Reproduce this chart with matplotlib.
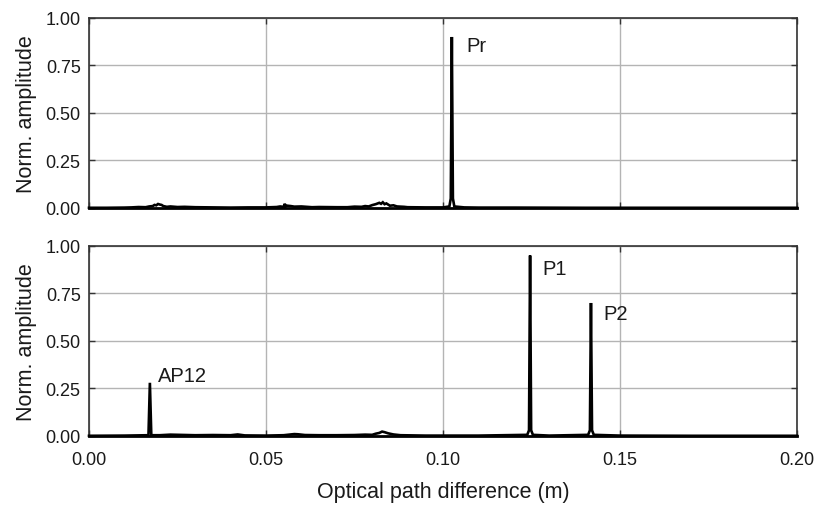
import matplotlib
matplotlib.use("Agg")
import matplotlib.pyplot as plt

plt.rcParams['font.family'] = ['Liberation Sans', 'DejaVu Sans']

# Top trace (reference)
top_x = [0.000, 0.005, 0.010, 0.012, 0.014, 0.016, 0.017, 0.018, 0.0185, 0.019, 0.0195, 0.020,
         0.0205, 0.021, 0.022, 0.023, 0.025, 0.027, 0.030, 0.035, 0.040, 0.045,
         0.050, 0.053, 0.054, 0.0550, 0.0553, 0.0556, 0.0560, 0.057, 0.058, 0.060, 0.063, 0.065,
         0.070, 0.073, 0.075, 0.077, 0.078, 0.079, 0.080, 0.081, 0.082, 0.0825, 0.083,
         0.0835, 0.084, 0.085, 0.086, 0.087, 0.089, 0.090, 0.095, 0.100, 0.1018, 0.1022,
         0.1025, 0.1028, 0.1032, 0.106, 0.110, 0.120, 0.140, 0.160, 0.180, 0.200]
top_y = [0.001, 0.001, 0.002, 0.003, 0.005, 0.004, 0.008, 0.010, 0.016, 0.014, 0.021, 0.018,
         0.016, 0.010, 0.006, 0.008, 0.005, 0.006, 0.004, 0.003, 0.002, 0.003,
         0.003, 0.005, 0.008, 0.006, 0.022, 0.008, 0.012, 0.010, 0.007, 0.008, 0.004, 0.005,
         0.004, 0.004, 0.007, 0.006, 0.010, 0.008, 0.015, 0.020, 0.027, 0.022, 0.030,
         0.020, 0.024, 0.012, 0.014, 0.008, 0.006, 0.004, 0.003, 0.003, 0.008, 0.050,
         0.900, 0.050, 0.008, 0.003, 0.002, 0.002, 0.001, 0.001, 0.001, 0.001]

# Bottom trace
bot_x = [0.000, 0.010, 0.0168, 0.0172, 0.0176, 0.020, 0.023, 0.030, 0.035, 0.040, 0.042, 0.044,
         0.050, 0.055, 0.057, 0.058, 0.059, 0.061, 0.065, 0.070, 0.075, 0.078, 0.080, 0.081,
         0.082, 0.0828, 0.0835, 0.0845, 0.086, 0.088, 0.095, 0.110, 0.1238, 0.1243,
         0.1246, 0.1249, 0.1254, 0.130, 0.1410, 0.1415, 0.1418, 0.1421, 0.1426, 0.150, 0.170, 0.200]
bot_y = [0.001, 0.002, 0.004, 0.280, 0.004, 0.004, 0.007, 0.004, 0.005, 0.004, 0.008, 0.003,
         0.002, 0.004, 0.008, 0.010, 0.009, 0.005, 0.004, 0.004, 0.005, 0.007, 0.006, 0.012,
         0.016, 0.023, 0.020, 0.014, 0.008, 0.004, 0.002, 0.002, 0.006, 0.030,
         0.950, 0.030, 0.006, 0.002, 0.006, 0.030, 0.700, 0.030, 0.006, 0.002, 0.001, 0.001]

top_labels = [("Pr", 0.1065, 0.853)]
bot_labels = [("AP12", 0.0195, 0.316), ("P1", 0.1282, 0.879), ("P2", 0.1452, 0.647)]

x_ticks = [0.00, 0.05, 0.10, 0.15, 0.20]
x_ticklabels = ["0.00", "0.05", "0.10", "0.15", "0.20"]
y_ticks = [0.00, 0.25, 0.50, 0.75, 1.00]
y_ticklabels = ["0.00", "0.25", "0.50", "0.75", "1.00"]

fig = plt.figure(figsize=(8.15, 5.06), dpi=100)
ax1 = fig.add_axes([0.1092, 0.587, 0.8687, 0.3755])
ax2 = fig.add_axes([0.1092, 0.1364, 0.8687, 0.3755])

for ax, xs, ys, labels in [(ax1, top_x, top_y, top_labels), (ax2, bot_x, bot_y, bot_labels)]:
    ax.plot(xs, ys, color='black', lw=1.9, solid_joinstyle='miter', zorder=3, clip_on=False)
    ax.set_xlim(0, 0.2)
    ax.set_ylim(0, 1.0)
    ax.set_xticks(x_ticks)
    ax.set_yticks(y_ticks)
    ax.set_yticklabels(y_ticklabels)
    ax.grid(True, color='#b4b4b4', lw=1.0, zorder=0)
    ax.set_axisbelow(True)
    ax.tick_params(direction='in', length=4, width=1, top=True, right=True,
                   labelsize=13, colors='#333333', labelcolor='#1a1a1a', pad=6)
    for s in ax.spines.values():
        s.set_color('#333333')
        s.set_linewidth(1.2)
    ax.spines['bottom'].set_color('black')
    ax.spines['bottom'].set_linewidth(2.0)
    ax.set_ylabel("Norm. amplitude", fontsize=15.5, labelpad=6, color='#1a1a1a')
    for txt, x, y in labels:
        ax.text(x, y, txt, fontsize=14.5, ha='left', va='center', color='#1a1a1a')

ax1.set_xticklabels([])
ax2.set_xticklabels(x_ticklabels)
ax2.tick_params(axis='x', pad=11)
ax2.set_xlabel("Optical path difference (m)", fontsize=15.5, labelpad=9, color='#1a1a1a')

fig.savefig("out.png", dpi=100)
